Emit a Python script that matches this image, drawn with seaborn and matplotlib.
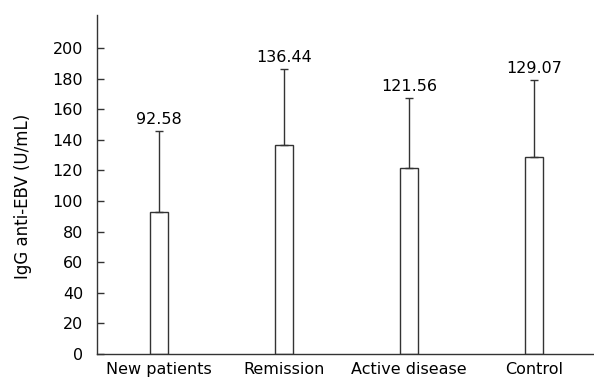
import matplotlib
matplotlib.use("Agg")
import matplotlib.pyplot as plt
import seaborn as sns
import pandas as pd

# values
groups = ["New patients", "Remission", "Active disease", "Control"]
means = [92.58, 136.44, 121.56, 129.07]
sds = [53.2, 50.0, 45.5, 50.2]
yticks = [0, 20, 40, 60, 80, 100, 120, 140, 160, 180, 200]

df = pd.DataFrame({"group": groups, "igg": means})

sns.set_style("ticks")
plt.rcParams["font.family"] = ["DejaVu Sans"]
plt.rcParams["text.color"] = "black"
plt.rcParams["xtick.color"] = "black"
plt.rcParams["ytick.color"] = "black"
plt.rcParams["axes.labelcolor"] = "black"

fig = plt.figure(figsize=(5.94, 3.82), dpi=100)
ax = fig.add_axes([0.1633, 0.0733, 0.8367, 0.8874])

sns.barplot(data=df, x="group", y="igg", color="white", edgecolor="#333333",
            linewidth=1.0, width=0.15, errorbar=None, ax=ax)

# upward-only error bars
ax.errorbar(range(len(groups)), means, yerr=[[0] * len(sds), sds], fmt="none",
            ecolor="#333333", elinewidth=1.0, capsize=3, capthick=1.0)

for i, (m, s) in enumerate(zip(means, sds)):
    ax.annotate(f"{m:.2f}", (i, m + s), xytext=(0, 3), textcoords="offset points",
                ha="center", va="bottom", fontsize=11.5)

ax.set_xlim(-0.496, 3.48)
ax.set_ylim(0, 221.6)
ax.set_yticks(yticks)
ax.tick_params(axis="y", direction="in", length=5, labelsize=11.5, width=1,
               color="#333333", pad=10)
ax.tick_params(axis="x", length=0, labelsize=11.5, pad=6)
ax.set_xlabel("")
ax.set_ylabel("IgG anti-EBV (U/mL)", fontsize=12)
ax.yaxis.set_label_coords(-0.13, 0.466)
for side in ["top", "right"]:
    ax.spines[side].set_visible(False)
for side in ["left", "bottom"]:
    ax.spines[side].set_color("#333333")
    ax.spines[side].set_linewidth(1.0)

fig.savefig("out.png", dpi=100)
